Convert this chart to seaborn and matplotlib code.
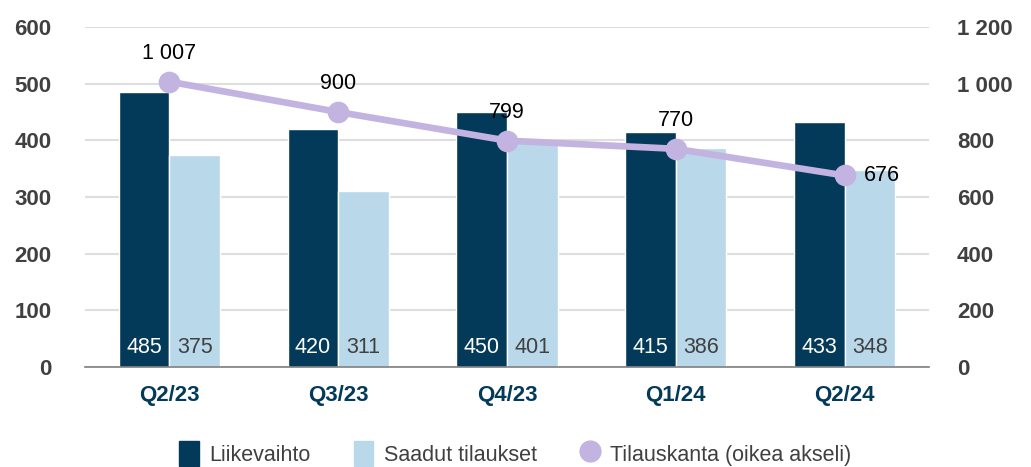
import pandas as pd
import matplotlib.pyplot as plt
import seaborn as sns
from matplotlib.patches import Patch
from matplotlib.lines import Line2D

quarters = ['Q2/23', 'Q3/23', 'Q4/23', 'Q1/24', 'Q2/24']
liikevaihto = [485, 420, 450, 415, 433]
saadut = [375, 311, 401, 386, 348]
tilauskanta = [1007, 900, 799, 770, 676]

DARK = '#033a5a'
LIGHT = '#b9d8ea'
PURPLE = '#c3b3e0'
GREY = '#404040'


def fmt(v):
    return f'{v:,.0f}'.replace(',', ' ')


df = pd.DataFrame({
    'quarter': quarters * 2,
    'value': liikevaihto + saadut,
    'series': ['Liikevaihto'] * 5 + ['Saadut tilaukset'] * 5,
})

sns.set_style('white')
plt.rcParams['font.family'] = ['Liberation Sans', 'DejaVu Sans']

fig = plt.figure(figsize=(10.31, 4.67), dpi=100)
ax = fig.add_axes([85 / 1031, 1 - 367 / 467, 844 / 1031, 340 / 467])

sns.barplot(data=df, x='quarter', y='value', hue='series', order=quarters,
            palette=[DARK, LIGHT], width=0.6, gap=0, saturation=1,
            legend=False, ax=ax)

ax.set_ylim(0, 600)
ax.set_xlim(-0.5, 4.5)
ax.set_yticks(range(0, 601, 100))
ax.yaxis.grid(True, color='#dedede', linewidth=1.5)
ax.set_axisbelow(True)
for s in ['top', 'right', 'left']:
    ax.spines[s].set_visible(False)
ax.spines['bottom'].set_color('#7f7f7f')
ax.spines['bottom'].set_linewidth(1.2)
ax.tick_params(axis='both', length=0)
ax.tick_params(axis='y', labelsize=16, labelcolor=GREY, pad=24)
ax.tick_params(axis='x', labelsize=16, labelcolor=DARK, pad=13)
for lab in ax.get_yticklabels() + ax.get_xticklabels():
    lab.set_fontweight('bold')
ax.set_xlabel('')
ax.set_ylabel('')

# value labels inside the bars
for i, (a, b) in enumerate(zip(liikevaihto, saadut)):
    ax.text(i - 0.15, 35, str(a), ha='center', va='center', fontsize=15.5, color='white')
    ax.text(i + 0.15, 35, str(b), ha='center', va='center', fontsize=15.5, color=GREY)

ax2 = ax.twinx()
sns.pointplot(x=quarters, y=tilauskanta, order=quarters, color=PURPLE,
              markers='o', markersize=12, linewidth=4.8, ax=ax2)
ax2.set_ylim(0, 1200)
ax2.set_xlim(-0.5, 4.5)
ax2.set_yticks(range(0, 1201, 200))
ax2.set_yticklabels([fmt(v) for v in range(0, 1201, 200)])
for s in ['top', 'right', 'left', 'bottom']:
    ax2.spines[s].set_visible(False)
ax2.tick_params(axis='y', length=0, labelsize=16, labelcolor=GREY, pad=20)
for lab in ax2.get_yticklabels():
    lab.set_fontweight('bold')
ax2.set_ylabel('')

for i, v in enumerate(tilauskanta):
    if i == len(tilauskanta) - 1:
        ax2.annotate(fmt(v), (i, v), xytext=(14, 0), textcoords='offset points',
                     ha='left', va='center', fontsize=15.5, color='black')
    else:
        ax2.annotate(fmt(v), (i, v), xytext=(0, 13), textcoords='offset points',
                     ha='center', va='bottom', fontsize=15.5, color='black')

handles = [
    Patch(color=DARK, label='Liikevaihto'),
    Patch(color=LIGHT, label='Saadut tilaukset'),
    Line2D([], [], marker='o', linestyle='none', markersize=15,
           color=PURPLE, label='Tilauskanta (oikea akseli)'),
]
leg = fig.legend(handles=handles, loc='lower center', bbox_to_anchor=(0.5, -0.04),
                 ncol=3, frameon=False, fontsize=15.5, handlelength=0.9,
                 handleheight=1.4, columnspacing=2.0, handletextpad=0.5)
for t in leg.get_texts():
    t.set_color(GREY)

plt.savefig('out.png', dpi=100)
plt.close()
